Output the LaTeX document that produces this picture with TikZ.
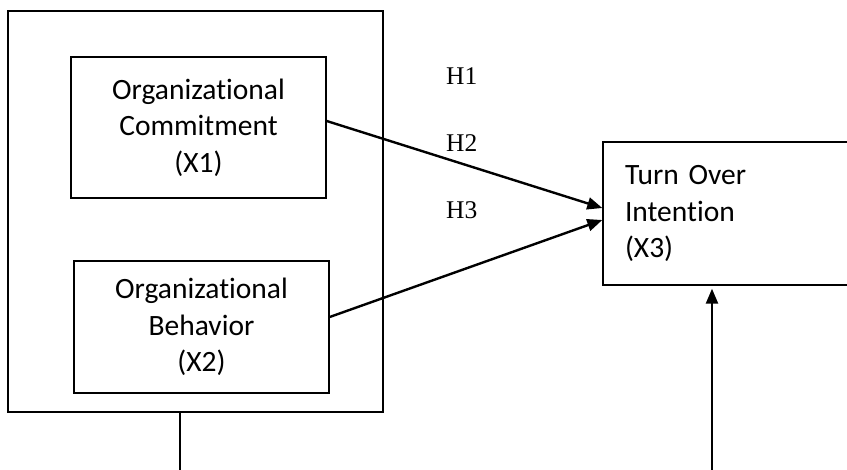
\documentclass[tikz,border=0pt]{standalone}
\usepackage{fontspec}
\newfontfamily\carl[Ligatures=NoCommon]{Carlito}
\newfontfamily\tms{Liberation Serif}
\usetikzlibrary{arrows.meta}
\begin{document}
\begin{tikzpicture}[x=1pt,y=-1pt,
  varbox/.style={draw,line width=1.4pt,align=center,inner sep=0pt,
    font=\carl\fontsize{29.5}{36.6}\selectfont},
  hlabel/.style={anchor=base west,inner sep=0pt,font=\tms\fontsize{25.5}{28}\selectfont},
  conn/.style={line width=2.4pt,-{Triangle[length=15pt,width=12pt]}}]
\useasboundingbox (0,0) rectangle (847,470);
\node[draw,line width=1.6pt,minimum width=375pt,minimum height=401pt,inner sep=0pt] (outer) at (195.5,211.5) {};
\node[varbox,minimum width=255pt,minimum height=141pt] (x1) at (198.5,127.5) {Organizational\\Commitment\\(X1)};
\node[varbox,minimum width=255pt,minimum height=132pt] (x2) at (201.5,327) {Organizational\\Behavior\\(X2)};
\node[varbox,align=left,text width=205pt,inner xsep=22pt,minimum height=143pt] (x3) at (727.5,213.5) {Turn Over\\Intention\\(X3)};
\node[hlabel] (h1) at (446,85) {H1};
\node[hlabel] (h2) at (446,152) {H2};
\node[hlabel] (h3) at (446,219) {H3};
\coordinate (bot1) at (180,470);
\coordinate (bot2) at (712,470);
\draw[line width=1.4pt] (bot1 |- outer.south) -- (bot1);
\draw[conn] ([yshift=6.5pt]x1.east) -- ([yshift=5.5pt]x3.west);
\draw[conn] ([yshift=10pt]x2.east) -- ([yshift=-6.5pt]x3.west);
\draw[conn,shorten >=3pt] (bot2) -- (bot2 |- x3.south);
\end{tikzpicture}
\end{document}
